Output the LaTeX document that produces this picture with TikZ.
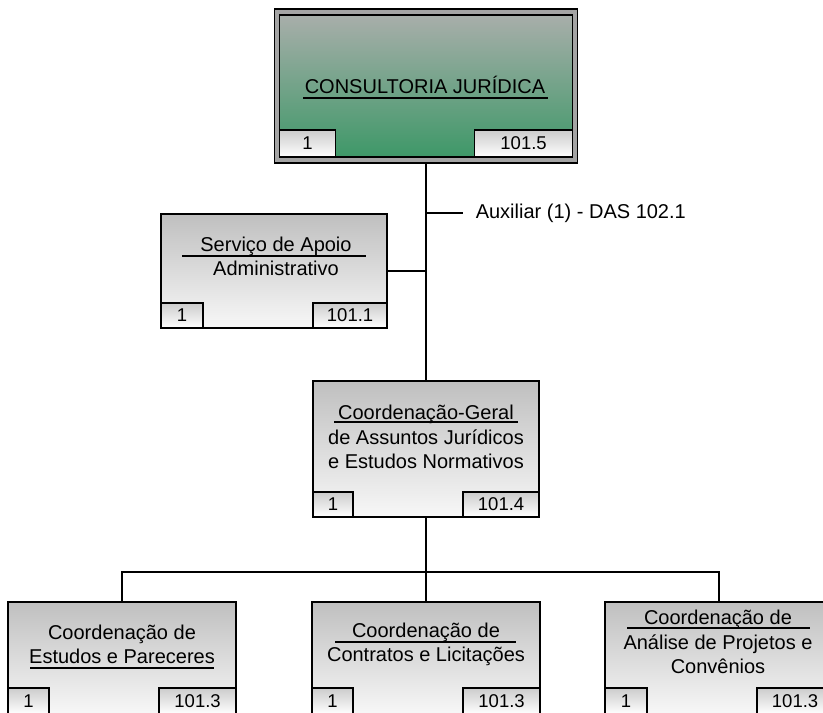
\documentclass[tikz,border=0pt]{standalone}
\usepackage{fontspec}
\setmainfont{Liberation Sans}
\usetikzlibrary{positioning}
\definecolor{jurgreen}{HTML}{3E9868}
\definecolor{jurtop}{HTML}{A8AEAA}
\definecolor{framegray}{HTML}{A4A4A4}
\tikzset{
	unit/.style 2 args={draw,line width=1.5pt,top color=gray!50,bottom color=gray!6,minimum width=#1,minimum height=#2,inner sep=0pt},
	numbox/.style 2 args={draw,line width=1.3pt,top color=gray!40,bottom color=white,minimum width=#1,minimum height=#2,inner sep=0pt,font=\fontsize{18.5}{20}\selectfont},
	title/.style={align=center,font=\fontsize{20}{24.5}\selectfont,inner sep=0pt},
	bar/.style={line width=1.3pt}
}
\begin{document}
\begin{tikzpicture}[x=1pt,y=-1pt,line width=1.5pt]
\useasboundingbox (0,0) rectangle (823,713);
\clip (0,0) rectangle (823,713);
\node[draw,fill=framegray,minimum width=303,minimum height=154,inner sep=0pt] (cj) at (426,86) {};
\node[draw,top color=jurtop,bottom color=jurgreen,minimum width=293,minimum height=142,inner sep=0pt] (cj-in) at (cj.center) {};
\node[numbox={56}{27},anchor=south west] (cj-a) at (cj-in.south west) {1};
\node[numbox={98}{27},anchor=south east] (cj-b) at (cj-in.south east) {101.5};
\node[title] (cj-t) at (425,85) {CONSULTORIA JURÍDICA};
\draw[bar] (303,98) -- (548,98);

\node[unit={226}{114}] (sa) at (274,271) {};
\node[numbox={42}{25},anchor=south west] (sa-a) at (sa.south west) {1};
\node[numbox={74}{25},anchor=south east] (sa-b) at (sa.south east) {101.1};
\node[title] (sa-t) at (276,256.5) {Serviço de Apoio\\Administrativo};
\draw[bar] (182,256) -- (366,256);

\node[unit={226}{136}] (cg) at (426,449) {};
\node[numbox={40}{25},anchor=south west] (cg-a) at (cg.south west) {1};
\node[numbox={76}{25},anchor=south east] (cg-b) at (cg.south east) {101.4};
\node[title] (cg-t) at (426,437) {Coordenação-Geral\\de Assuntos Jurídicos\\e Estudos Normativos};
\draw[bar] (334,422) -- (518,422);

\node[unit={228}{112}] (ep) at (122,658) {};
\node[numbox={41}{26},anchor=south west] (ep-a) at (ep.south west) {1};
\node[numbox={77}{26},anchor=south east] (ep-b) at (ep.south east) {101.3};
\node[title] (ep-t) at (122,644.5) {Coordenação de\\Estudos e Pareceres};
\draw[bar] (30,668) -- (214,668);

\node[unit={228}{112}] (cl) at (426,658) {};
\node[numbox={41}{26},anchor=south west] (cl-a) at (cl.south west) {1};
\node[numbox={77}{26},anchor=south east] (cl-b) at (cl.south east) {101.3};
\node[title] (cl-t) at (426,644.5) {Coordenação de\\Contratos e Licitações};
\draw[bar] (335,642) -- (516,642);

\node[unit={228}{112}] (ap) at (719,658) {};
\node[numbox={42}{26},anchor=south west] (ap-a) at (ap.south west) {1};
\node[numbox={76}{26},anchor=south east] (ap-b) at (ap.south east) {101.3};
\node[title] (ap-t) at (718,642) {Coordenação de\\Análise de Projetos e\\Convênios};
\draw[bar] (627,628) -- (810,628);

\coordinate (aux-a) at (426,213);
\coordinate (aux-b) at (463,213);
\node[title,anchor=west] (aux-t) at (475,213) {Auxiliar (1) - DAS 102.1};
\coordinate (bus) at (426,572);

\draw (cj.south) -- (cg.north);
\draw (aux-a) -- (aux-b);
\draw (sa.east) -- (sa.east -| cg.north);
\draw (cg.south) -- (bus);
\draw (ep.north) |- (bus) -| (ap.north);
\draw (bus) -- (cl.north);
\end{tikzpicture}
\end{document}
